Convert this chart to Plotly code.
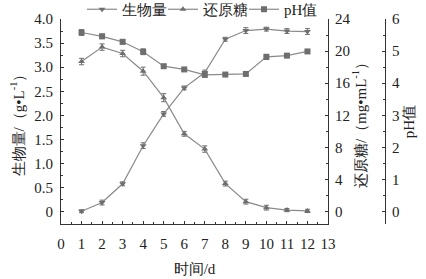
import plotly.graph_objects as go

days = [1, 2, 3, 4, 5, 6, 7, 8, 9, 10, 11, 12]
biomass = [0.01, 0.19, 0.58, 1.37, 2.03, 2.57, 2.89, 3.58, 3.76, 3.79, 3.75, 3.74]
biomass_err = [0.03, 0.05, 0.04, 0.06, 0.05, 0.04, 0.05, 0.04, 0.06, 0.04, 0.05, 0.06]
sugar = [18.7, 20.5, 19.7, 17.5, 14.2, 9.7, 7.8, 3.5, 1.25, 0.5, 0.2, 0.1]
sugar_err = [0.4, 0.4, 0.4, 0.5, 0.5, 0.3, 0.4, 0.3, 0.3, 0.3, 0.2, 0.2]
ph = [5.58, 5.46, 5.29, 4.98, 4.53, 4.43, 4.26, 4.27, 4.29, 4.82, 4.86, 4.99]
ph_err = [0.09, 0.07, 0.07, 0.09, 0.05, 0.04, 0.06, 0.04, 0.06, 0.08, 0.06, 0.05]

names = ["生物量", "还原糖", "pH值"]
x_ticks = list(range(0, 14))
y1_vals = [0, 0.5, 1.0, 1.5, 2.0, 2.5, 3.0, 3.5, 4.0]
y1_text = ["0", "0.5", "1.0", "1.5", "2.0", "2.5", "3.0", "3.5", "4.0"]
y2_vals = [0, 4, 8, 12, 16, 20, 24]
y3_vals = [0, 1, 2, 3, 4, 5, 6]

FONT = "'Times New Roman', 'Liberation Serif', 'DejaVu Serif', serif"
LINE = "#8a8a8a"
MARK = "#6e6e6e"

W, H = 426, 279
L, R, T, B = 61, 41, 19, 55
xdom_end = (328 - L) / (W - L - R)

fig = go.Figure()

def add(x, y, err, name, sym, yax):
    fig.add_trace(go.Scatter(
        x=x, y=y, name=name, yaxis=yax, mode="lines+markers",
        line=dict(color=LINE, width=1.2),
        marker=dict(symbol=sym, size=6, color=MARK),
        error_y=dict(type="data", array=err, visible=True, color=MARK, thickness=1, width=2.5),
    ))

add(days, biomass, biomass_err, names[0], "triangle-down", "y")
add(days, sugar, sugar_err, names[1], "triangle-up", "y2")
add(days, ph, ph_err, names[2], "square", "y3")

frac = 0.06
def rng(lo, hi):
    span = (hi - lo) / (1 - frac)
    return [hi - span, hi]

axis_common = dict(
    showline=True, linecolor="#333333", linewidth=1,
    ticks="inside", ticklen=3, tickcolor="#333333", tickwidth=1,
    showgrid=False, zeroline=False, automargin=False,
    tickfont=dict(family=FONT, size=15, color="#222222"),
)

fig.update_layout(
    width=W, height=H,
    margin=dict(l=L, r=R, t=T, b=B, pad=0, autoexpand=False),
    paper_bgcolor="white", plot_bgcolor="white",
    font=dict(family=FONT, size=15, color="#222222"),
    showlegend=True,
    legend=dict(orientation="h", x=(82 - L) / (W - L - R), xanchor="left",
                y=1 + (T + 7) / (H - T - B), yanchor="top",
                bgcolor="rgba(0,0,0,0)", font=dict(family=FONT, size=15),
                itemwidth=30, entrywidth=36, entrywidthmode="pixels"),
    xaxis=dict(
        domain=[0, xdom_end], range=[0, 13],
        tickvals=x_ticks, ticktext=[str(v) for v in x_ticks],
        minor=dict(ticks="inside", ticklen=2, dtick=0.5, tickcolor="#333333"),
        ticklabelstandoff=6,
        title=dict(text="时间/d", font=dict(family=FONT, size=15), standoff=12),
        **axis_common,
    ),
    yaxis=dict(
        range=rng(0, 4.0), tickvals=y1_vals, ticktext=y1_text,
        minor=dict(ticks="inside", ticklen=2, dtick=0.25, tickcolor="#333333"),
        ticklabelstandoff=4,
        title=dict(text="生物量/（g•L<sup>-1</sup>）", font=dict(family=FONT, size=15), standoff=6),
        **axis_common,
    ),
    yaxis2=dict(
        overlaying="y", side="right", anchor="x",
        range=rng(0, 24), tickvals=y2_vals, ticktext=[str(v) for v in y2_vals],
        minor=dict(ticks="inside", ticklen=2, dtick=2, tickcolor="#333333"),
        ticklabelstandoff=3,
        title=dict(text="还原糖/（mg•mL<sup>-1</sup>）", font=dict(family=FONT, size=15), standoff=4),
        **axis_common,
    ),
    yaxis3=dict(
        overlaying="y", side="right", anchor="free", position=1.0,
        range=rng(0, 6), tickvals=y3_vals, ticktext=[str(v) for v in y3_vals],
        minor=dict(ticks="inside", ticklen=2, dtick=0.5, tickcolor="#333333"),
        ticklabelstandoff=3,
        title=dict(text="pH值", font=dict(family=FONT, size=15), standoff=4),
        **axis_common,
    ),
)

fig.write_html("out.html")
